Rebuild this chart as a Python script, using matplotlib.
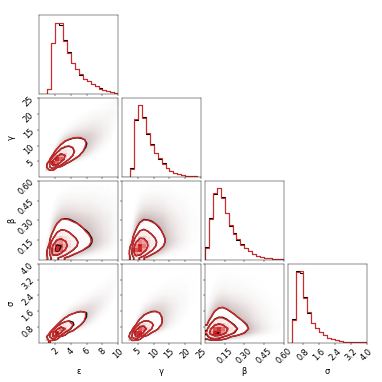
import math
import numpy as np
import matplotlib
matplotlib.use("Agg")
import matplotlib.pyplot as plt
from matplotlib.colors import LinearSegmentedColormap, to_rgba
from matplotlib.ticker import MaxNLocator

plt.rcParams["font.size"] = 15

labels = ["ε", "γ", "β", "σ"]
ranges = [(0, 10), (0, 25), (0, 0.6), (0, 4)]

# 1D histogram heights, 20 bins over each range
eps_black = [0, 0, 8, 71, 100, 96, 76, 59, 44, 35, 27, 22, 19, 15, 11, 9, 6, 5, 3, 2]
eps_red = [0, 0, 7, 72, 100, 100, 75, 58, 43, 35, 28, 21, 18, 14, 11, 8, 6, 5, 3, 2]
gam_black = [0, 0, 12, 80, 100, 84, 60, 46, 34, 25, 19, 12, 8, 6, 4, 3, 2, 1, 1, 0.5]
gam_red = [0, 0, 11, 81, 100, 83, 61, 45, 34, 26, 18, 12, 9, 6, 4, 3, 2, 1, 1, 0.5]
beta_black = [18, 58, 92, 100, 87, 66, 47, 37, 28, 22, 17, 12, 8, 6, 4, 3, 2, 1, 1, 0.5]
beta_red = [17, 57, 93, 100, 86, 65, 48, 36, 29, 21, 16, 12, 8, 6, 4, 3, 2, 1, 1, 0.5]
sig_black = [0, 33, 100, 97, 63, 41, 28, 21, 15, 11, 7, 5, 3, 2, 1.5, 1, 0.7, 0.5, 0.3, 0.2]
sig_red = [0, 31, 98, 100, 62, 42, 27, 21, 15, 11, 7, 5, 3, 2, 1.5, 1, 0.7, 0.5, 0.3, 0.2]

hists = {"k": [eps_black, gam_black, beta_black, sig_black],
         "C3": [eps_red, gam_red, beta_red, sig_red]}

# pairwise correlation of normal scores, estimated from the contour tilt
rho = {(1, 0): 0.82, (2, 0): 0.45, (2, 1): 0.45, (3, 0): 0.9, (3, 1): 0.78, (3, 2): 0.3}
haze = {"k": 2.6, "C3": 1.4}
sharpen = 1.2   # contours in the picture sit a bit tighter than the raw joint density

levels = 1 - np.exp(-0.5 * np.arange(0.5, 2.1, 0.5) ** 2)
nb, sub = 20, 10
nf = nb * sub

zz = np.linspace(-6, 6, 4001)
Phi = 0.5 * (1 + np.vectorize(math.erf)(zz / math.sqrt(2)))


def marginal(counts, lo, hi):
    edges = np.linspace(lo, hi, nb + 1)
    centers = 0.5 * (edges[1:] + edges[:-1])
    x = lo + (np.arange(nf) + 0.5) * (hi - lo) / nf
    pdf = np.interp(x, centers, np.asarray(counts, float))
    cdf = (np.cumsum(pdf) - 0.5 * pdf) / pdf.sum()
    z = np.interp(np.clip(cdf, 1e-7, 1 - 1e-7), Phi, zz)
    return x, pdf / pdf.sum(), z, edges


def joint(cx, cy, lx, ly, r):
    x, fx, zx, ex = marginal(cx, *lx)
    y, fy, zy, ey = marginal(cy, *ly)
    Zx, Zy = np.meshgrid(zx, zy)
    c = np.exp(-(r ** 2 * (Zx ** 2 + Zy ** 2) - 2 * r * Zx * Zy) / (2 * (1 - r ** 2))) / np.sqrt(1 - r ** 2)
    return x, y, ex, ey, np.outer(fy, fx) * c


def padded(H, ex, ey):
    # same edge padding corner uses before drawing contours
    cx = 0.5 * (ex[1:] + ex[:-1])
    cy = 0.5 * (ey[1:] + ey[:-1])
    dx, dy = cx[1] - cx[0], cy[1] - cy[0]
    H2 = H.min() + np.zeros((H.shape[0] + 4, H.shape[1] + 4))
    H2[2:-2, 2:-2] = H
    H2[2:-2, 1] = H[:, 0]
    H2[2:-2, -2] = H[:, -1]
    H2[1, 2:-2] = H[0]
    H2[-2, 2:-2] = H[-1]
    H2[1, 1] = H[0, 0]
    H2[1, -2] = H[0, -1]
    H2[-2, 1] = H[-1, 0]
    H2[-2, -2] = H[-1, -1]
    X2 = np.concatenate([cx[0] + np.array([-2, -1]) * dx, cx, cx[-1] + np.array([1, 2]) * dx])
    Y2 = np.concatenate([cy[0] + np.array([-2, -1]) * dy, cy, cy[-1] + np.array([1, 2]) * dy])
    return X2, Y2, H2


fig, axes = plt.subplots(4, 4, figsize=(9.7, 9.7))
lb, tr = 1.0 / 9.7, 9.3 / 9.7
fig.subplots_adjust(left=lb, bottom=lb, right=tr, top=tr, wspace=0.05, hspace=0.05)

for color in ["k", "C3"]:
    h = hists[color]
    rgba = to_rgba(color)
    dens_cmap = LinearSegmentedColormap.from_list("d", [color, (1, 1, 1, 0)])
    for i in range(4):
        for j in range(4):
            ax = axes[i, j]
            if j > i:
                continue
            if i == j:
                edges = np.linspace(*ranges[i], nb + 1)
                ax.stairs(h[i], edges, color=color, lw=2.0)
                ax.set_ylim(0, 1.1 * max(h[i]))
                continue
            x, y, ex, ey, f = joint(h[j], h[i], ranges[j], ranges[i], rho[(i, j)])
            # faint cloud of samples outside the contours
            img = np.zeros(f.shape + (4,))
            img[..., :3] = rgba[:3]
            img[..., 3] = 1 - np.exp(-haze[color] * f / f.max())
            ax.imshow(img, extent=(*ranges[j], *ranges[i]), origin="lower",
                      aspect="auto", zorder=-1, interpolation="bilinear")
            H = (f ** sharpen).reshape(nb, sub, nb, sub).mean(axis=(1, 3))
            flat = np.sort(H.ravel())[::-1]
            sm = np.cumsum(flat)
            sm /= sm[-1]
            V = []
            for v in levels:
                below = flat[sm <= v]
                V.append(below[-1] if len(below) else flat[0] * 0.97)
            V = np.sort(V)
            X2, Y2, H2 = padded(H, ex, ey)
            ax.contourf(X2, Y2, H2, [V.min(), H.max()], colors=["white"], antialiased=False)
            ax.pcolormesh(ex, ey, H.max() - H, cmap=dens_cmap)
            ax.contour(X2, Y2, H2, V, colors=color, linewidths=2.5)

for i in range(4):
    for j in range(4):
        ax = axes[i, j]
        if j > i:
            ax.set_frame_on(False)
            ax.set_xticks([])
            ax.set_yticks([])
            continue
        ax.set_xlim(*ranges[j])
        ax.xaxis.set_major_locator(MaxNLocator(5, prune="lower"))
        if i == j:
            ax.set_yticks([])
        else:
            ax.set_ylim(*ranges[i])
            ax.yaxis.set_major_locator(MaxNLocator(5, prune="lower"))
            if j > 0:
                ax.set_yticklabels([])
            else:
                for t in ax.get_yticklabels():
                    t.set_rotation(45)
                ax.set_ylabel(labels[i])
                ax.yaxis.set_label_coords(-0.3, 0.5)
        if i < 3:
            ax.set_xticklabels([])
        else:
            for t in ax.get_xticklabels():
                t.set_rotation(45)
            ax.set_xlabel(labels[j])
            ax.xaxis.set_label_coords(0.5, -0.3)

fig.savefig("out.png", dpi=382.3 / 9.7)
